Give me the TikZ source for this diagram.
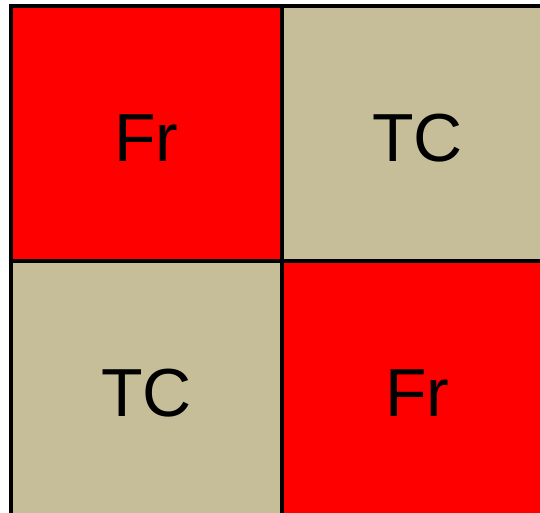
\documentclass[tikz,border=0pt]{standalone}
\usepackage{fontspec}
\setmainfont{Liberation Sans}
\usetikzlibrary{
	positioning
}

\definecolor{frred}{RGB}{255,0,0}
\definecolor{tctan}{RGB}{197,190,152}

\tikzset{
	cell/.style={draw,line width=4pt,outer sep=0pt,minimum width=271pt,minimum height=255pt,inner sep=0pt,text height=56pt,text depth=0pt,font=\fontsize{68}{80}\selectfont}
}

\begin{document}
\begin{tikzpicture}[x=1pt,y=-1pt]
			
			\useasboundingbox (0,0) rectangle (540,513);
			\clip (0,0) rectangle (540,513);
			
			\node[cell,fill=frred] (c1) at (146.5,133.5) {Fr};
			\node[cell,fill=tctan,right=0pt of c1] (c2) {TC};
			\node[cell,fill=tctan,below=0pt of c1] (c3) {TC};
			\node[cell,fill=frred,below=0pt of c2] (c4) {Fr};
			
		\end{tikzpicture}
\end{document}
